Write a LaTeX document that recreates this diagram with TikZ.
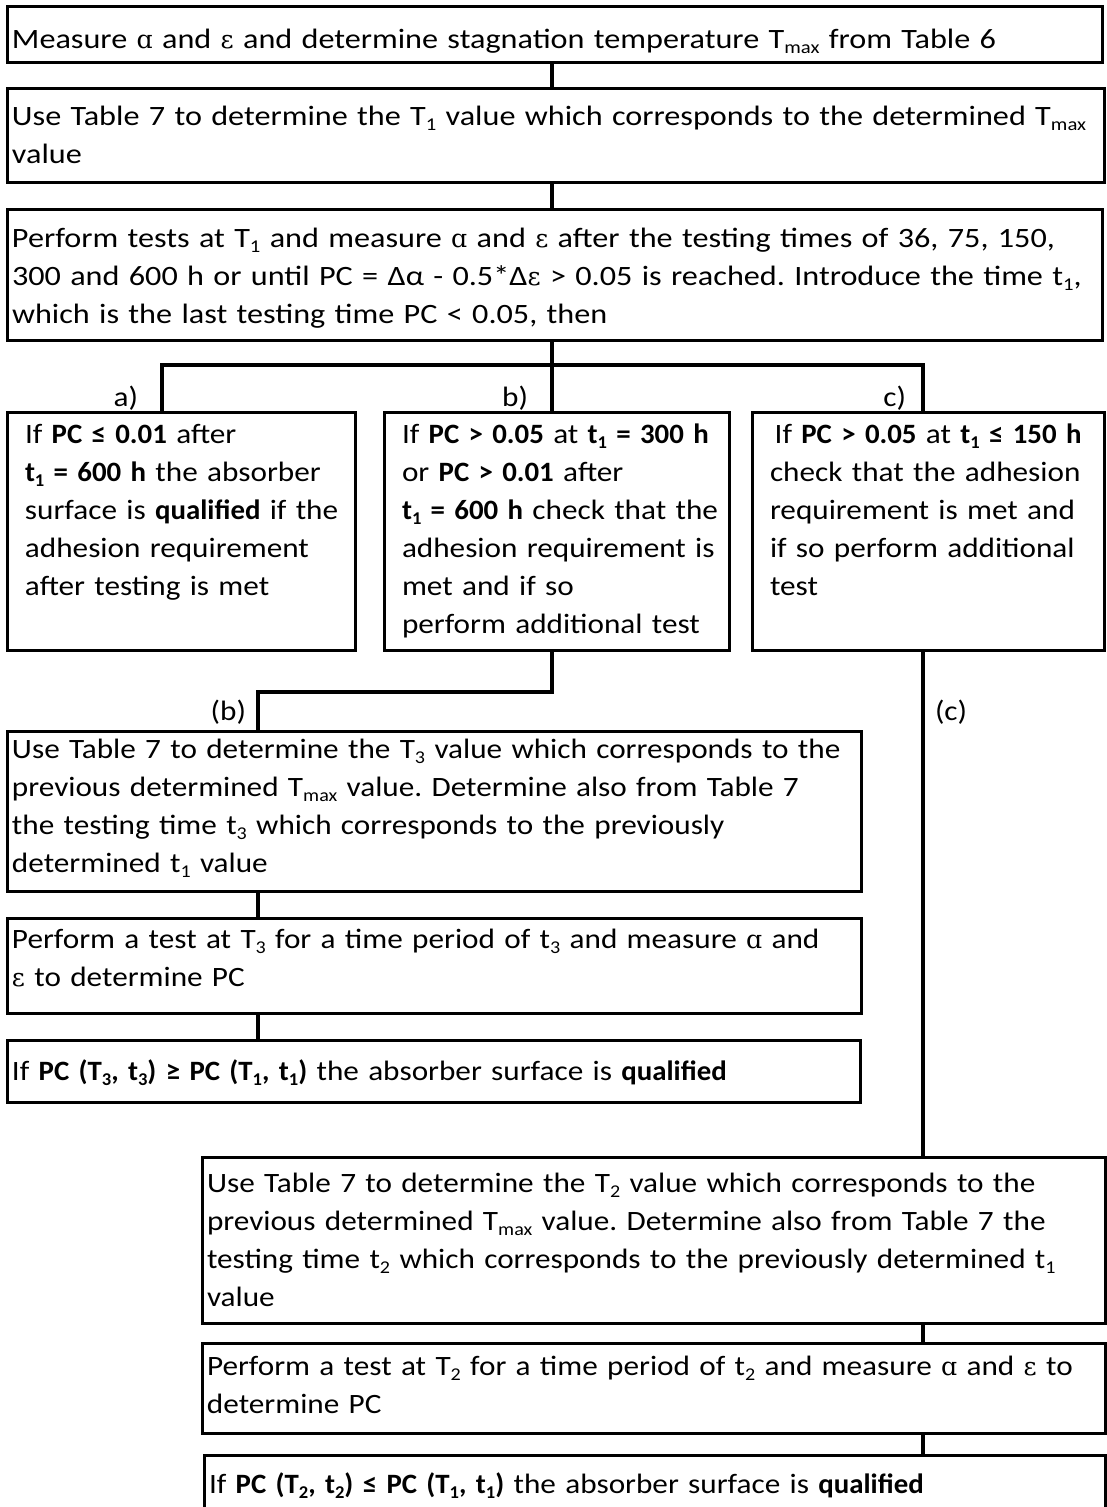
\documentclass[tikz,border=0pt]{standalone}
\usepackage{fontspec}
\setmainfont{Carlito}[FakeStretch=1.115,BoldFont={Carlito Bold},BoldFeatures={FakeStretch=1.03}]
\newfontfamily\widefont{Carlito}[FakeStretch=1.15,BoldFont={Carlito Bold},BoldFeatures={FakeStretch=1.05}]
\newfontfamily\symfont{DejaVu Serif}[Scale=0.9]
\usepackage{tikz}
\usetikzlibrary{calc}
\newcommand{\low}[1]{\raisebox{-5pt}{\fontsize{18}{18}\selectfont #1}}
\newcommand{\mAlpha}{{\symfont ɑ}}
\newcommand{\mEps}{{\symfont ε}}
\newcommand{\fullline}[2]{\makebox[#1][s]{#2}}
\newcommand{\oneline}[1]{\mbox{#1}}
\frenchspacing

\begin{document}
\begin{tikzpicture}[x=1pt,y=-1pt,
		font=\fontsize{28}{38}\selectfont\frenchspacing,
		every node/.style={outer sep=0pt},
		box/.style={draw,line width=3pt,anchor=north west,align=left,inner xsep=5pt,inner ysep=0pt},
		topbox/.style={box,font=\fontsize{28}{38}\widefont\frenchspacing},
		casebox/.style={box,inner xsep=18pt},
		link/.style={line width=3.5pt},
		lbl/.style={anchor=base east,inner sep=0pt}]
				\useasboundingbox (0,0) rectangle (1107,1507);
				\clip (0,0) rectangle (1107,1507);
				\node[topbox,text width=1085,text height=42,text depth=14] (m1) at (7,6) {\oneline{Measure \mAlpha{} and \mEps{} and determine stagnation temperature T\low{max} from Table 6}};
				\node[topbox,text width=1087,text height=37,text depth=57] (m2) at (7,88) {\oneline{Use Table 7 to determine the T\low{1} value which corresponds to the determined T\low{max}}\\value};
				\node[topbox,text width=1085,text height=38,text depth=93] (m3) at (7,209) {\fullline{1084pt}{Perform tests at T\low{1} and measure \mAlpha{} and \mEps{} after the testing times of 36, 75, 150,}\\\fullline{1082pt}{300 and 600 h or until PC = Δα - 0.5*Δ\mEps{} > 0.05 is reached. Introduce the time t\low{1},}\\which is the last testing time PC < 0.05, then};
				\node[casebox,text width=312,text height=31,text depth=207] (ca) at (7,412) {\oneline{If \textbf{PC ≤ 0.01} after}\\\oneline{\textbf{t\low{1} = 600 h} the absorber}\\\oneline{surface is \textbf{qualified} if the}\\\oneline{adhesion requirement}\\\oneline{after testing is met}};
				\node[casebox,text width=309,text height=31,text depth=207] (cb) at (384,412) {\oneline{If \textbf{PC > 0.05} at \textbf{t\low{1} = 300 h}}\\\oneline{or \textbf{PC > 0.01} after}\\\oneline{\textbf{t\low{1} = 600 h} check that the}\\\oneline{adhesion requirement is}\\\oneline{met and if so}\\\oneline{perform additional test}};
				\node[casebox,text width=316,text height=31,text depth=207] (cc) at (752,412) {\oneline{\,If \textbf{PC > 0.05} at \textbf{t\low{1} ≤ 150 h}}\\\oneline{check that the adhesion}\\\oneline{requirement is met and}\\\oneline{if so perform additional}\\test};
				\node[box,text width=844,text height=27,text depth=133] (p1) at (7,731) {\oneline{Use Table 7 to determine the T\low{3} value which corresponds to the}\\\oneline{previous determined T\low{max} value. Determine also from Table 7}\\\oneline{the testing time t\low{3} which corresponds to the previously}\\determined t\low{1} value};
				\node[box,text width=844,text height=30,text depth=65] (p2) at (7,918) {\oneline{Perform a test at T\low{3} for a time period of t\low{3} and measure \mAlpha{} and}\\\mEps{} to determine PC};
				\node[box,text width=843,text height=40,text depth=22] (p3) at (7,1040) {\oneline{If \textbf{PC (T\low{3}, t\low{3}) ≥ PC (T\low{1}, t\low{1})} the absorber surface is \textbf{qualified}}};
				\node[box,text width=893,text height=35,text depth=131] (q1) at (202,1157) {\oneline{Use Table 7 to determine the T\low{2} value which corresponds to the}\\\oneline{previous determined T\low{max} value. Determine also from Table 7 the}\\\oneline{testing time t\low{2} which corresponds to the previously determined t\low{1}}\\value};
				\node[box,text width=893,text height=32,text depth=58] (q2) at (202,1343) {\oneline{Perform a test at T\low{2} for a time period of t\low{2} and measure \mAlpha{} and \mEps{} to}\\determine PC};
				\node[box,text width=891,text height=38,text depth=22] (q3) at (204,1455) {\oneline{If \textbf{PC (T\low{2}, t\low{2}) ≤ PC (T\low{1}, t\low{1})} the absorber surface is \textbf{qualified}}};
				\node[lbl] (la) at (138,406) {a)};
				\node[lbl] (lb) at (528,406) {b)};
				\node[lbl] (lc) at (906,406) {c)};
				\node[lbl] (lpb) at (246,720) {(b)};
				\node[lbl,anchor=base west] (lpc) at (935,720) {(c)};
				\coordinate (mid) at (552,0);
				\coordinate (fork) at (552,365);
				\coordinate (xa) at (162,0);
				\coordinate (xc) at (923,0);
				\coordinate (bturn) at (258,692);
				\draw[link] (m1.south -| mid) -- (m2.north -| mid);
				\draw[link] (m2.south -| mid) -- (m3.north -| mid);
				\draw[link] (m3.south -| mid) -- (cb.north -| mid);
				\draw[link] (ca.north -| xa) |- (fork) -| (cc.north -| xc);
				\draw[link] (cb.south -| mid) |- (bturn) -- (p1.north -| bturn);
				\draw[link] (p1.south -| bturn) -- (p2.north -| bturn);
				\draw[link] (p2.south -| bturn) -- (p3.north -| bturn);
				\draw[link] (cc.south -| xc) -- (q1.north -| xc);
				\draw[link] (q1.south -| xc) -- (q2.north -| xc);
				\draw[link] (q2.south -| xc) -- (q3.north -| xc);
			\end{tikzpicture}
\end{document}
